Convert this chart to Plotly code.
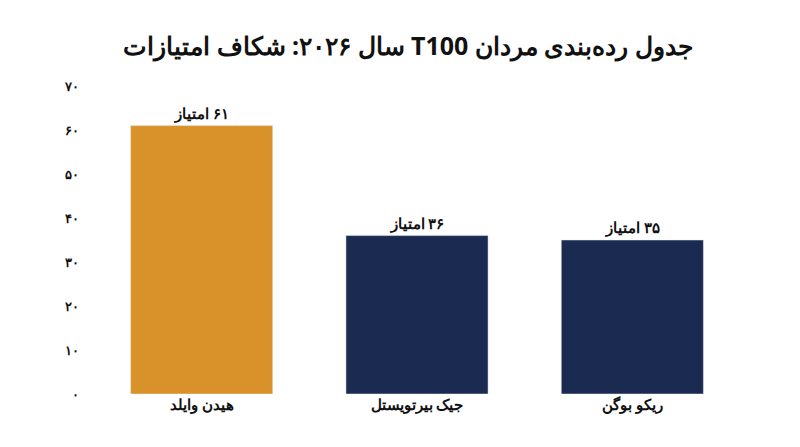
import plotly.graph_objects as go

players = ['هیدن وایلد', 'جیک بیرتویستل', 'ریکو بوگن']
points = [61, 36, 35]
colors = ['#D9922A', '#1B2A50', '#1B2A50']
tick_vals = [0, 10, 20, 30, 40, 50, 60, 70]

RLE, PDF = '\u202B', '\u202C'
fa = str.maketrans('0123456789', '۰۱۲۳۴۵۶۷۸۹')
labels = ['<b>' + RLE + (str(p) + ' امتیاز').translate(fa) + PDF + '</b>' for p in points]
tick_text = ['<b>' + str(v).translate(fa) + '</b>' for v in tick_vals]
player_text = ['<b>' + RLE + p + PDF + '</b>' for p in players]

fig = go.Figure(go.Bar(
    x=players,
    y=points,
    marker_color=colors,
    text=labels,
    textposition='outside',
    textfont=dict(size=15, color='#111111', family='Noto Sans'),
    cliponaxis=False,
    width=0.66
))

fig.update_layout(
    width=800,
    height=447,
    margin=dict(l=86, r=68, t=78, b=61, autoexpand=False),
    plot_bgcolor='white',
    paper_bgcolor='white',
    font=dict(family='Noto Sans', color='#111111'),
    title=dict(
        text='<b>' + RLE + 'جدول رده‌بندی مردان T100 سال ۲۰۲۶: شکاف امتیازات' + PDF + '</b>',
        x=0.5, xanchor='center', y=0.935,
        font=dict(size=25)
    ),
    showlegend=False
)
fig.update_yaxes(
    range=[0, 70],
    tickvals=tick_vals,
    ticktext=tick_text,
    showgrid=False,
    zeroline=False,
    tickfont=dict(size=13),
    ticks='', ticklabelstandoff=14,
    automargin=False
)
fig.update_xaxes(
    tickvals=players,
    ticktext=player_text,
    tickfont=dict(size=15, color='#111111'),
    showline=False,
    automargin=False
)

fig.write_html('out.html')
